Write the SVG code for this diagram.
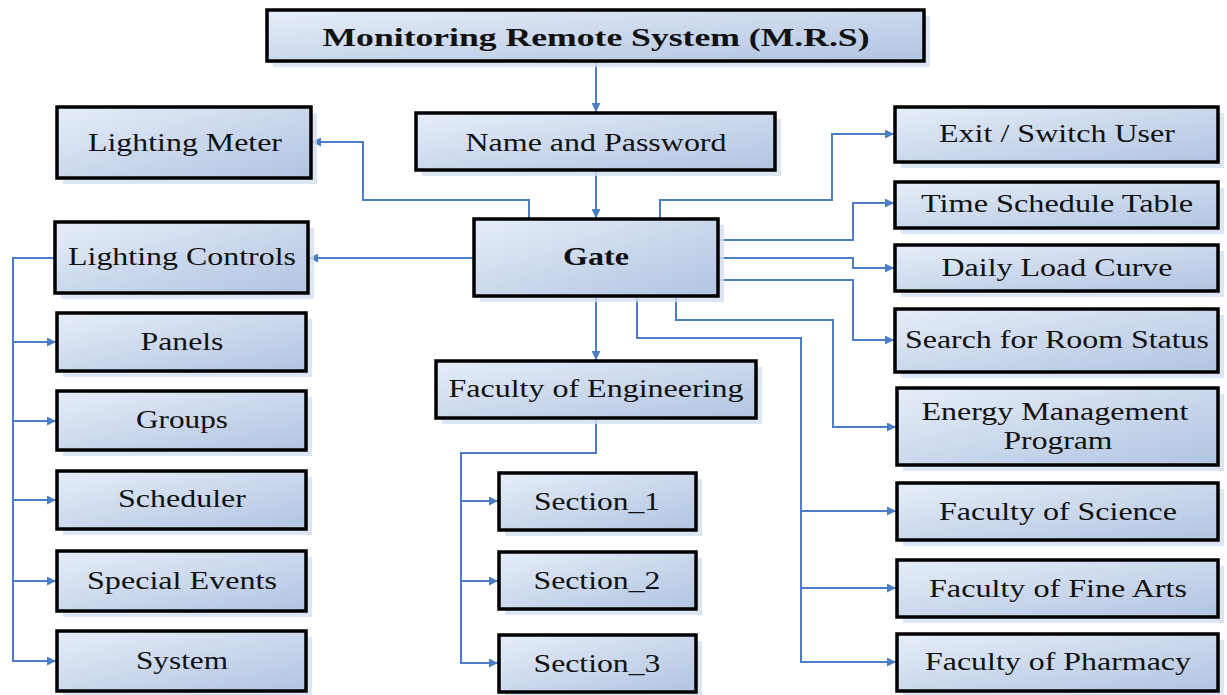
<svg xmlns="http://www.w3.org/2000/svg" width="1227" height="695" viewBox="0 0 1227 695">
<defs>
<linearGradient id="g" x1="0" y1="0" x2="1" y2="1">
<stop offset="0" stop-color="#e6edf8"/>
<stop offset="1" stop-color="#b1c4e1"/>
</linearGradient>
<marker id="a" viewBox="0 0 10 10" refX="10" refY="5" markerWidth="11" markerHeight="9" markerUnits="userSpaceOnUse" orient="auto">
<path d="M0,0 L10,5 L0,10 z" fill="#4a7dc6"/>
</marker>
<style>
.box{fill:url(#g);stroke:#000;stroke-width:3.5}
.sh{fill:#d3def0;opacity:0.8}
.t{font-family:"Liberation Serif","Times New Roman",serif;font-size:26px;text-anchor:middle;fill:#111}
.b{font-weight:bold}
.c{fill:none;stroke:#4a7dc6;stroke-width:2}
</style>
</defs>
<rect width="1227" height="695" fill="#fff"/>
<g id="connectors">
<path class="c" d="M596,61 V112" marker-end="url(#a)"/>
<path class="c" d="M596,170 V218" marker-end="url(#a)"/>
<path class="c" d="M529,219 V200 H363 V142 H312" marker-end="url(#a)"/>
<path class="c" d="M474,258 H309" marker-end="url(#a)"/>
<path class="c" d="M660,219 V200 H832 V134 H894" marker-end="url(#a)"/>
<path class="c" d="M718,240 H853 V203 H894" marker-end="url(#a)"/>
<path class="c" d="M718,258 H853 V268 H894" marker-end="url(#a)"/>
<path class="c" d="M718,280 H853 V340 H894" marker-end="url(#a)"/>
<path class="c" d="M596,296 V360" marker-end="url(#a)"/>
<path class="c" d="M676,296 V320 H833 V427 H896" marker-end="url(#a)"/>
<path class="c" d="M637,296 V338 H801 V662 H896" marker-end="url(#a)"/>
<path class="c" d="M801,511 H896" marker-end="url(#a)"/>
<path class="c" d="M801,588 H896" marker-end="url(#a)"/>
<path class="c" d="M596,418 V453 H461 V663 H498" marker-end="url(#a)"/>
<path class="c" d="M461,501 H498" marker-end="url(#a)"/>
<path class="c" d="M461,581 H498" marker-end="url(#a)"/>
<path class="c" d="M55,258 H13 V661 H56" marker-end="url(#a)"/>
<path class="c" d="M13,342 H56" marker-end="url(#a)"/>
<path class="c" d="M13,421 H56" marker-end="url(#a)"/>
<path class="c" d="M13,500 H56" marker-end="url(#a)"/>
<path class="c" d="M13,581 H56" marker-end="url(#a)"/>
</g>
<g id="mrs"><rect class="sh" x="273" y="16" width="657" height="51"/><rect class="box" x="267" y="10" width="657" height="51"/><text class="t b" x="596" y="46" font-size="30" textLength="547" lengthAdjust="spacingAndGlyphs">Monitoring Remote System (M.R.S)</text></g>
<g id="name"><rect class="sh" x="422" y="119" width="359" height="57"/><rect class="box" x="416" y="113" width="359" height="57"/><text class="t" x="596" y="151" textLength="261" lengthAdjust="spacingAndGlyphs">Name and Password</text></g>
<g id="meter"><rect class="sh" x="63" y="113" width="254" height="71"/><rect class="box" x="57" y="107" width="254" height="71"/><text class="t" x="185" y="151" textLength="194" lengthAdjust="spacingAndGlyphs">Lighting Meter</text></g>
<g id="gate"><rect class="sh" x="480" y="225" width="244" height="77"/><rect class="box" x="474" y="219" width="244" height="77"/><text class="t b" x="596" y="265" font-size="26" textLength="66" lengthAdjust="spacingAndGlyphs">Gate</text></g>
<g id="controls"><rect class="sh" x="61" y="228" width="253" height="71"/><rect class="box" x="55" y="222" width="253" height="71"/><text class="t" x="182" y="265" textLength="228" lengthAdjust="spacingAndGlyphs">Lighting Controls</text></g>
<g id="panels"><rect class="sh" x="63" y="319" width="249" height="58"/><rect class="box" x="57" y="313" width="249" height="58"/><text class="t" x="182" y="350" textLength="83" lengthAdjust="spacingAndGlyphs">Panels</text></g>
<g id="groups"><rect class="sh" x="63" y="397" width="249" height="59"/><rect class="box" x="57" y="391" width="249" height="59"/><text class="t" x="182" y="428" textLength="92" lengthAdjust="spacingAndGlyphs">Groups</text></g>
<g id="scheduler"><rect class="sh" x="63" y="477" width="249" height="58"/><rect class="box" x="57" y="471" width="249" height="58"/><text class="t" x="182" y="507" textLength="128" lengthAdjust="spacingAndGlyphs">Scheduler</text></g>
<g id="special"><rect class="sh" x="63" y="557" width="249" height="60"/><rect class="box" x="57" y="551" width="249" height="60"/><text class="t" x="182" y="589" textLength="190" lengthAdjust="spacingAndGlyphs">Special Events</text></g>
<g id="system"><rect class="sh" x="63" y="637" width="249" height="58"/><rect class="box" x="57" y="631" width="249" height="60"/><text class="t" x="182" y="669" textLength="92" lengthAdjust="spacingAndGlyphs">System</text></g>
<g id="eng"><rect class="sh" x="442" y="367" width="320" height="57"/><rect class="box" x="436" y="361" width="320" height="57"/><text class="t" x="596" y="397" textLength="295" lengthAdjust="spacingAndGlyphs">Faculty of Engineering</text></g>
<g id="s1"><rect class="sh" x="505" y="479" width="197" height="57"/><rect class="box" x="499" y="473" width="197" height="57"/><text class="t" x="597" y="510" textLength="126" lengthAdjust="spacingAndGlyphs">Section_1</text></g>
<g id="s2"><rect class="sh" x="505" y="558" width="197" height="57"/><rect class="box" x="499" y="552" width="197" height="57"/><text class="t" x="597" y="589" textLength="127" lengthAdjust="spacingAndGlyphs">Section_2</text></g>
<g id="s3"><rect class="sh" x="505" y="641" width="197" height="54"/><rect class="box" x="499" y="635" width="197" height="57"/><text class="t" x="597" y="672" textLength="127" lengthAdjust="spacingAndGlyphs">Section_3</text></g>
<g id="exit"><rect class="sh" x="901" y="113" width="323" height="55"/><rect class="box" x="895" y="107" width="323" height="55"/><text class="t" x="1057" y="142" textLength="236" lengthAdjust="spacingAndGlyphs">Exit / Switch User</text></g>
<g id="time"><rect class="sh" x="901" y="188" width="323" height="46"/><rect class="box" x="895" y="182" width="323" height="46"/><text class="t" x="1057" y="212" textLength="272" lengthAdjust="spacingAndGlyphs">Time Schedule Table</text></g>
<g id="daily"><rect class="sh" x="901" y="251" width="323" height="46"/><rect class="box" x="895" y="245" width="323" height="46"/><text class="t" x="1057" y="276" textLength="231" lengthAdjust="spacingAndGlyphs">Daily Load Curve</text></g>
<g id="search"><rect class="sh" x="901" y="315" width="323" height="63"/><rect class="box" x="895" y="309" width="323" height="63"/><text class="t" x="1057" y="348" textLength="304" lengthAdjust="spacingAndGlyphs">Search for Room Status</text></g>
<g id="energy"><rect class="sh" x="903" y="394" width="321" height="77"/><rect class="box" x="897" y="388" width="321" height="77"/><text class="t" x="1055" y="420" textLength="267" lengthAdjust="spacingAndGlyphs">Energy Management</text><text class="t" x="1058" y="449" textLength="109" lengthAdjust="spacingAndGlyphs">Program</text></g>
<g id="science"><rect class="sh" x="903" y="489" width="321" height="57"/><rect class="box" x="897" y="483" width="321" height="57"/><text class="t" x="1058" y="520" textLength="238" lengthAdjust="spacingAndGlyphs">Faculty of Science</text></g>
<g id="arts"><rect class="sh" x="903" y="566" width="321" height="57"/><rect class="box" x="897" y="560" width="321" height="57"/><text class="t" x="1058" y="597" textLength="258" lengthAdjust="spacingAndGlyphs">Faculty of Fine Arts</text></g>
<g id="pharmacy"><rect class="sh" x="903" y="640" width="321" height="55"/><rect class="box" x="897" y="634" width="321" height="57"/><text class="t" x="1058" y="670" textLength="266" lengthAdjust="spacingAndGlyphs">Faculty of Pharmacy</text></g>
</svg>
